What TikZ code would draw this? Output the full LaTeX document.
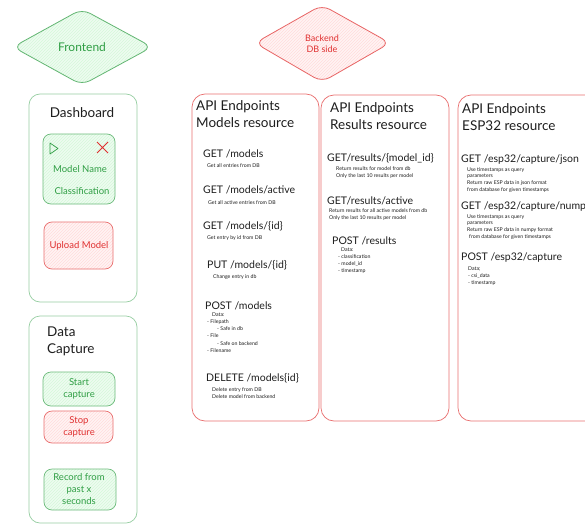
\documentclass[tikz,border=0pt]{standalone}
\usepackage{fontspec}
\setmainfont{Lato}
\usetikzlibrary{patterns}

\definecolor{grn}{HTML}{2F9E44}
\definecolor{grnfill}{HTML}{B2F2BB}
\definecolor{rd}{HTML}{E03131}
\definecolor{rdfill}{HTML}{FFC9C9}
\definecolor{ink}{HTML}{1E1E1E}

\tikzset{
  hatchG/.style={preaction={fill=grnfill!22}, pattern=north east lines, pattern color=grnfill!55},
  hatchR/.style={preaction={fill=rdfill!22}, pattern=north east lines, pattern color=rdfill!65},
  frameG/.style={draw=grn!50, line width=0.7pt, rounded corners=11pt},
  frameR/.style={draw=rd!70, line width=0.7pt, rounded corners=13pt},
  btnG/.style={draw=grn!70, line width=0.7pt, rounded corners=8pt, hatchG},
  btnR/.style={draw=rd!70, line width=0.7pt, rounded corners=8pt, hatchR},
  diamG/.style={draw=grn!75, line width=0.8pt, rounded corners=9pt, hatchG},
  diamR/.style={draw=rd!75, line width=0.8pt, rounded corners=9pt, hatchR},
  title/.style={text=ink, inner sep=0pt, font=\fontsize{13.5}{17}\selectfont, align=left},
  endpt/.style={text=ink, inner sep=0pt, anchor=west, font=\fontsize{10.5}{12}\selectfont},
  note/.style={text=ink, inner sep=0pt, anchor=north west, align=left, font=\fontsize{5.2}{7.2}\selectfont},
  gtext/.style={text=grn, inner sep=0pt, align=center, font=\fontsize{9.5}{12}\selectfont},
  rtext/.style={text=rd, inner sep=0pt, align=center, font=\fontsize{9.5}{12}\selectfont},
}

\begin{document}
\begin{tikzpicture}[x=1pt,y=-1pt]
  \useasboundingbox (0,0) rectangle (585,524);
  \fill[white] (0,0) rectangle (585,524);
  \clip (0,0) rectangle (585,524);

  % --- section headers ---
  \draw[diamG] (13,47) -- (82,9) -- (152,47) -- (82,85) -- cycle;
  \node[text=grn, inner sep=0pt, font=\fontsize{12}{14}\selectfont] (frontend) at (82,47) {Frontend};

  \draw[diamR] (255,43) -- (322,5) -- (390,43) -- (322,82) -- cycle;
  \node[text=rd, inner sep=0pt, align=center, font=\fontsize{9}{11}\selectfont] (backend) at (322,44) {Backend\\DB side};

  % --- dashboard panel ---
  \draw[frameG] (29,94) rectangle (137,302);
  \node[title] (dashtitle) at (82,113) {Dashboard};

  \draw[btnG] (43,134) rectangle (115,204);
  \draw[grn, line width=0.7pt, line join=round] (50,143) -- (58,148.5) -- (50,154) -- cycle;
  \draw[rd, line width=0.8pt] (97,142) -- (108,153) (108,142) -- (97,153);
  \node[gtext] (modelname) at (80,169) {Model Name};
  \node[gtext] (classif) at (82,191) {Classification};

  \draw[btnR] (44,222) rectangle (113,269);
  \node[rtext] (upload) at (79,246) {Upload Model};

  % --- data capture panel ---
  \draw[frameG] (29,316) rectangle (137,523);
  \node[title, anchor=north west] (captitle) at (47,327) {Data\\Capture};

  \draw[btnG] (43,372) rectangle (115,406);
  \node[gtext] (start) at (79,389) {Start\\capture};
  \draw[btnR] (44,411) rectangle (113,443);
  \node[rtext] (stop) at (79,427) {Stop\\capture};
  \draw[btnG] (44,469) rectangle (116,510);
  \node[gtext] (record) at (79,489) {Record from\\past x\\seconds};

  % --- models resource ---
  \draw[frameR] (192,94) rectangle (319,421);
  \node[title, anchor=north west] (mtitle) at (196,100) {API Endpoints\\Models resource};

  \node[endpt] (m1) at (203,154) {GET /models};
  \node[note, anchor=west] (m1n) at (207,166) {Get all entries from DB};
  \node[endpt] (m2) at (203,190) {GET /models/active};
  \node[note, anchor=west] (m2n) at (208,203) {Get all active entries from DB};
  \node[endpt] (m3) at (203,226) {GET /models/\{id\}};
  \node[note, anchor=west] (m3n) at (207,238) {Get entry by id from DB};
  \node[endpt] (m4) at (207,265) {PUT /models/\{id\}};
  \node[note, anchor=west] (m4n) at (213,277) {Change entry in db};
  \node[endpt] (m5) at (205,306) {POST /models};
  \node[note, anchor=west] (m5n) at (207,315) {\hspace*{5pt}Data:};
  \node[note] (m5l) at (207,319.5) {- Filepath\\\hspace*{10pt}- Safe in db\\- File\\\hspace*{10pt}- Safe on backend\\- Filename};
  \node[endpt] (m6) at (206,378) {DELETE /models\{id\}};
  \node[note] (m6n) at (212,387.5) {Delete entry from DB\\Delete model from backend};

  % --- results resource ---
  \draw[frameR] (321,95) rectangle (449,421);
  \node[title, anchor=north west] (rtitle) at (330,102) {API Endpoints\\Results resource};

  \node[endpt] (r1) at (327,158) {GET/results/\{model\_id\}};
  \node[note] (r1n) at (336,166.5) {Return results for model from db\\Only the last 10 results per model};
  \node[endpt] (r2) at (327,201) {GET/results/active};
  \node[note] (r2n) at (329,208.5) {Return results for all active models from db\\Only the last 10 results per model};
  \node[endpt] (r3) at (332,241) {POST /results};
  \node[note, anchor=west] (r3n) at (341,250) {Data:};
  \node[note] (r3l) at (338,254.5) {- classification\\- model\_id\\- timestamp};

  % --- esp32 resource (runs past the right edge) ---
  \draw[frameR] (458,95) rectangle (600,421);
  \node[title, anchor=north west] (etitle) at (462,103) {API Endpoints\\ESP32 resource};

  \node[endpt] (e1) at (461,160) {GET /esp32/capture/json};
  \node[note, font=\fontsize{5.2}{6.7}\selectfont] (e1n) at (467,167) {Use timestamps as query\\parameters\\Return raw ESP data in json format\\from database for given timestamps};
  \node[endpt] (e2) at (461,207) {GET /esp32/capture/numpy};
  \node[note, font=\fontsize{5.2}{6.7}\selectfont] (e2n) at (467,214) {Use timestamps as query\\parameters\\Return raw ESP data in numpy format\\\hspace*{2pt}from database for given timestamps};
  \node[endpt] (e3) at (461,258) {POST /esp32/capture};
  \node[note] (e3n) at (468,266.5) {Data;\\- csi\_data\\- timestamp};
\end{tikzpicture}
\end{document}
